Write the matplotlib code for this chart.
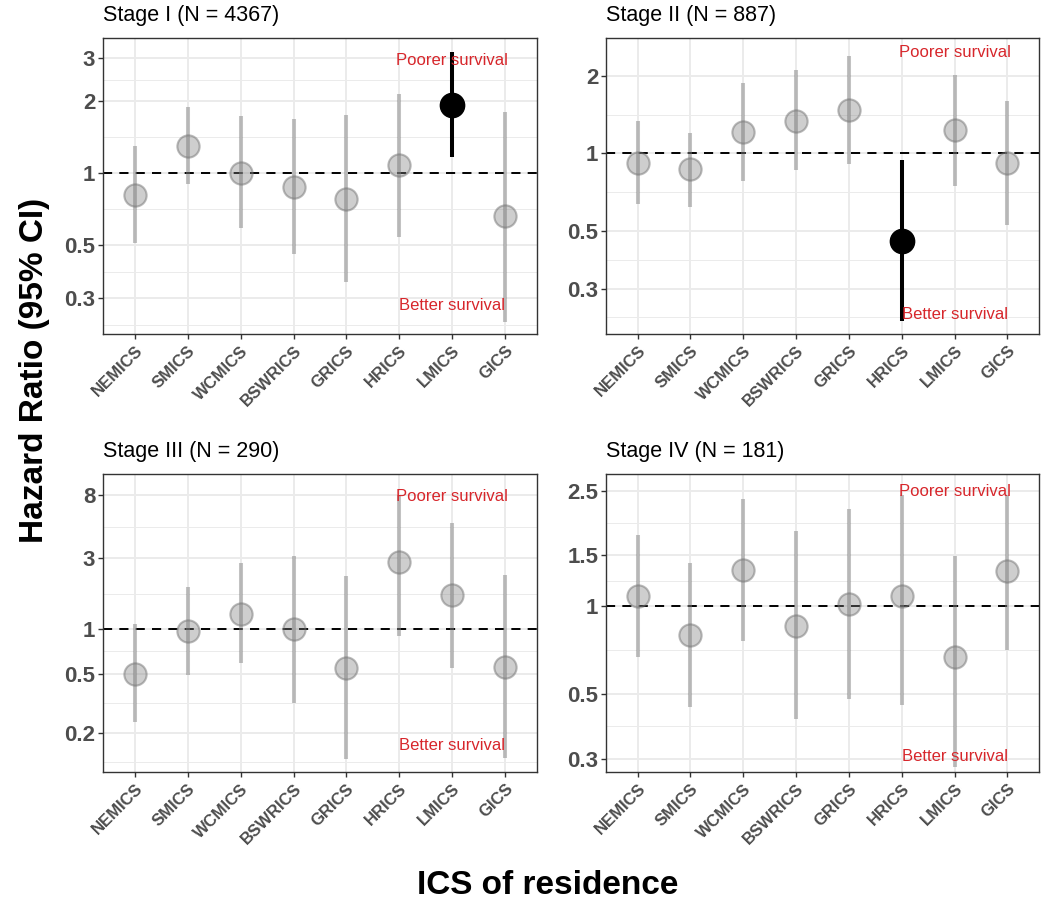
import numpy as np
import matplotlib
matplotlib.use("Agg")
import matplotlib.pyplot as plt
from matplotlib.ticker import FixedLocator, NullFormatter

plt.rcParams['font.family'] = ['Liberation Sans', 'DejaVu Sans']

regions = ["NEMICS", "SMICS", "WCMICS", "BSWRICS", "GRICS", "HRICS", "LMICS", "GICS"]
titles = ["Stage I (N = 4367)", "Stage II (N = 887)", "Stage III (N = 290)", "Stage IV (N = 181)"]

# hazard ratios and 95% CI per stage
hr_stage1 = [0.81, 1.30, 1.00, 0.87, 0.78, 1.08, 1.92, 0.66]
lo_stage1 = [0.51, 0.90, 0.59, 0.46, 0.35, 0.54, 1.17, 0.24]
hi_stage1 = [1.30, 1.88, 1.72, 1.68, 1.74, 2.14, 3.20, 1.80]

hr_stage2 = [0.92, 0.87, 1.21, 1.34, 1.47, 0.46, 1.23, 0.92]
lo_stage2 = [0.64, 0.62, 0.78, 0.86, 0.91, 0.225, 0.75, 0.53]
hi_stage2 = [1.33, 1.20, 1.87, 2.10, 2.39, 0.945, 2.01, 1.59]

hr_stage3 = [0.50, 0.97, 1.27, 1.00, 0.55, 2.85, 1.70, 0.56]
lo_stage3 = [0.235, 0.49, 0.59, 0.32, 0.134, 0.905, 0.55, 0.136]
hi_stage3 = [1.08, 1.92, 2.79, 3.13, 2.27, 8.0, 5.17, 2.32]

hr_stage4 = [1.09, 0.80, 1.33, 0.86, 1.02, 1.09, 0.67, 1.32]
lo_stage4 = [0.67, 0.45, 0.76, 0.41, 0.48, 0.46, 0.28, 0.71]
hi_stage4 = [1.76, 1.41, 2.34, 1.82, 2.16, 2.42, 1.49, 2.42]

# significant estimates are drawn in black
sig_stage1 = [False, False, False, False, False, False, True, False]
sig_stage2 = [False, False, False, False, False, True, False, False]
sig_stage3 = [False] * 8
sig_stage4 = [False] * 8

yticks = [[0.3, 0.5, 1, 2, 3], [0.3, 0.5, 1, 2], [0.2, 0.5, 1, 3, 8], [0.3, 0.5, 1, 1.5, 2.5]]
ylims = [(0.213, 3.65), (0.20, 2.80), (0.109, 11.1), (0.27, 2.85)]
poorer_y = [2.95, 2.46, 7.87, 2.49]
better_y = [0.279, 0.239, 0.164, 0.305]

stages = [
    (hr_stage1, lo_stage1, hi_stage1, sig_stage1),
    (hr_stage2, lo_stage2, hi_stage2, sig_stage2),
    (hr_stage3, lo_stage3, hi_stage3, sig_stage3),
    (hr_stage4, lo_stage4, hi_stage4, sig_stage4),
]

W, H = 1043, 901
fig = plt.figure(figsize=(W / 100, H / 100), dpi=100)

# panel boxes in pixels: left, top, right, bottom
boxes = [(103, 38, 537, 334), (606, 38, 1039, 334),
         (103, 474, 537, 772), (606, 474, 1039, 772)]

red = '#D7262B'
grid_col = '#EBEBEB'

def minor_breaks(ticks):
    lt = np.log10(ticks)
    mids = list((lt[:-1] + lt[1:]) / 2)
    mids = [lt[0] - (lt[1] - lt[0]) / 2] + mids + [lt[-1] + (lt[-1] - lt[-2]) / 2]
    return 10 ** np.array(mids)

for i, (hr, lo, hi, sig) in enumerate(stages):
    l, t, r, b = boxes[i]
    ax = fig.add_axes([l / W, 1 - b / H, (r - l) / W, (b - t) / H])
    ax.set_yscale('log')
    x = np.arange(1, len(regions) + 1)

    for xi, h, lw_, hw_, s in zip(x, hr, lo, hi, sig):
        if s:
            ax.plot([xi, xi], [lw_, hw_], color='black', lw=2.9, solid_capstyle='butt', zorder=4)
            ax.plot(xi, h, 'o', ms=17.5, mfc='black', mec='black', zorder=5)
        else:
            ax.plot([xi, xi], [lw_, hw_], color='#808080', alpha=0.48, lw=2.9,
                    solid_capstyle='butt', zorder=3)
            ax.plot(xi, h, 'o', ms=16, mfc=(0.5, 0.5, 0.5, 0.38),
                    mec=(0.45, 0.45, 0.45, 0.5), mew=1.5, zorder=3)

    ax.axhline(1, color='black', lw=1.4, ls=(0, (4.7, 3.7)), zorder=2)

    ax.text(7, poorer_y[i], "Poorer survival", color=red, fontsize=12,
            ha='center', va='center', zorder=6)
    ax.text(7, better_y[i], "Better survival", color=red, fontsize=12,
            ha='center', va='center', zorder=6)

    ax.set_xlim(0.4, 8.6)
    ax.set_ylim(*ylims[i])
    ax.yaxis.set_major_locator(FixedLocator(yticks[i]))
    ax.set_yticklabels([f"{v:g}" for v in yticks[i]])
    ax.yaxis.set_minor_locator(FixedLocator(minor_breaks(yticks[i])))
    ax.yaxis.set_minor_formatter(NullFormatter())
    ax.set_xticks(x)
    ax.set_xticklabels(regions, rotation=45, ha='right', va='top', rotation_mode='anchor')

    ax.grid(True, which='major', color=grid_col, lw=1.4, zorder=0)
    ax.grid(True, which='minor', axis='y', color=grid_col, lw=0.7, zorder=0)
    ax.set_axisbelow(True)
    ax.tick_params(which='major', length=3.6, width=1.0, color='#333333', direction='out')
    ax.tick_params(which='minor', length=0)
    ax.tick_params(axis='y', labelsize=16, labelcolor='#4D4D4D', pad=2)
    ax.tick_params(axis='x', labelsize=12, labelcolor='#4D4D4D', pad=3)
    for lab in ax.get_xticklabels() + ax.get_yticklabels():
        lab.set_fontweight('bold')
    for sp in ax.spines.values():
        sp.set_color('#333333')
        sp.set_linewidth(1.0)

    ax.set_title(titles[i], loc='left', fontsize=15.5, pad=12, color='black')

fig.text(35 / W, 1 - 370 / H, "Hazard Ratio (95% CI)", rotation=90, fontsize=24,
         fontweight='bold', ha='center', va='center')
fig.text(548 / W, 1 - 885 / H, "ICS of residence", fontsize=24,
         fontweight='bold', ha='center', va='center')

fig.savefig("out.png", dpi=100)
